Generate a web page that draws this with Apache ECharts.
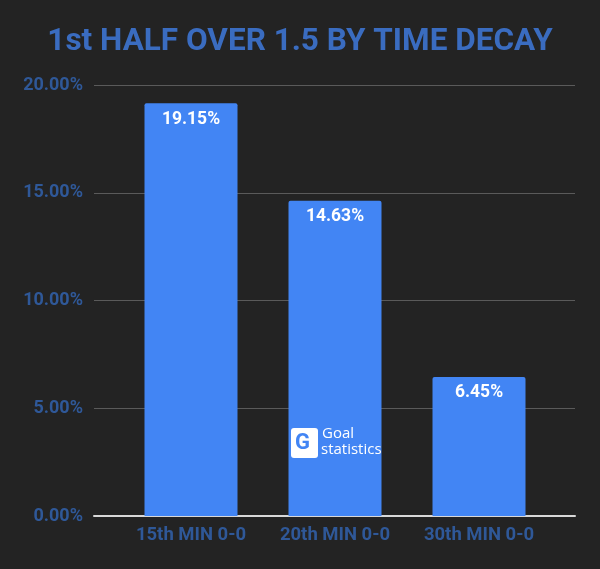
<!DOCTYPE html>
<html><head><meta charset="utf-8">
<script src="https://cdn.jsdelivr.net/npm/echarts@6/dist/echarts.min.js"></script>
<style>html,body{margin:0;padding:0;background:#232323;}#c{width:600px;height:569px;}</style>
</head><body><div id="c"></div>
<script>
const categories = ['15th MIN 0-0', '20th MIN 0-0', '30th MIN 0-0'];
const values = [19.15, 14.63, 6.45];
const yTicks = [0, 5, 10, 15, 20];
const titleText = '1st HALF OVER 1.5 BY TIME DECAY';

const chart = echarts.init(document.getElementById('c'));
const gTop = 85, gBottom = 569 - 516;
chart.setOption({
  backgroundColor: '#232323',
  animation: false,
  title: {
    text: titleText, left: 'center', top: 21,
    textStyle: { color: '#3a6cc0', fontSize: 31.5, fontWeight: 'bold', fontFamily: 'Roboto' }
  },
  grid: [
    { left: 94, right: 25, top: gTop, bottom: gBottom },
    { left: 119, right: 49, top: gTop, bottom: gBottom }
  ],
  xAxis: [
    { gridIndex: 0, type: 'category', data: categories, show: true,
      axisLine: { show: true, lineStyle: { color: '#d8d8d8', width: 2 } },
      axisTick: { show: false }, axisLabel: { show: false } },
    { gridIndex: 1, type: 'category', data: categories,
      axisLine: { show: false }, axisTick: { show: false },
      axisLabel: { color: '#2f5898', fontSize: 18.5, fontWeight: 'bold', fontFamily: 'Roboto', margin: 10 } }
  ],
  yAxis: [
    { gridIndex: 0, type: 'value', min: yTicks[0], max: yTicks[yTicks.length - 1], interval: 5,
      axisLine: { show: false }, axisTick: { show: false },
      splitLine: { lineStyle: { color: '#5a5a5a', width: 1 } },
      axisLabel: { color: '#2f5898', fontSize: 18, fontWeight: 'bold', fontFamily: 'Roboto', margin: 11,
        formatter: v => v.toFixed(2) + '%' } },
    { gridIndex: 1, type: 'value', min: yTicks[0], max: yTicks[yTicks.length - 1], interval: 5,
      show: false, splitLine: { show: false } }
  ],
  series: [{
    type: 'bar', xAxisIndex: 1, yAxisIndex: 1, data: values, barWidth: 93,
    itemStyle: { color: '#4285f4', borderRadius: [2, 2, 0, 0] },
    label: { show: true, position: 'insideTop', distance: 7, color: '#ffffff', fontSize: 17.5,
      fontWeight: 'bold', fontFamily: 'Roboto', formatter: p => p.value.toFixed(2) + '%' }
  }],
  graphic: [
    { type: 'rect', z: 100, left: 291, top: 428, shape: { width: 27, height: 30, r: 3 }, style: { fill: '#ffffff' } },
    { type: 'text', z: 101, left: 295, top: 432, style: { text: 'G', fill: '#4285f4', font: 'bold 22px Roboto' } },
    { type: 'text', z: 101, left: 322, top: 426, style: { text: 'Goal', fill: '#ffffff', font: '15px "Open Sans"' } },
    { type: 'text', z: 101, left: 321, top: 442, style: { text: 'statistics', fill: '#ffffff', font: '15px "Open Sans"' } }
  ]
});
</script></body></html>
